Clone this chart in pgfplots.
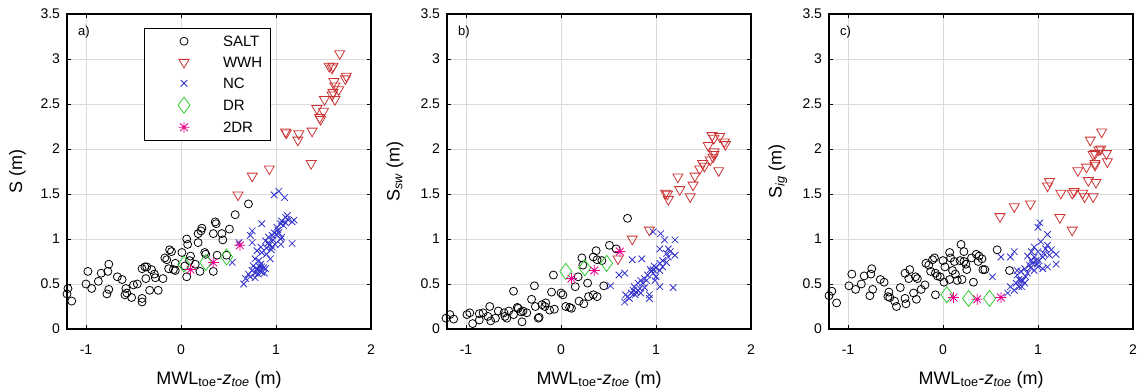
\documentclass[border=0pt]{standalone}
\usepackage{pgfplots}
\pgfplotsset{compat=1.18}
\usepackage{fontspec}
\setmainfont{Liberation Sans}
\definecolor{cRed}{RGB}{204,51,51}
\definecolor{cBlue}{RGB}{51,51,204}
\definecolor{cGreen}{RGB}{51,204,51}
\pgfdeclareplotmark{mast}{%
  \pgfpathmoveto{\pgfqpoint{-\pgfplotmarksize}{0pt}}\pgfpathlineto{\pgfqpoint{\pgfplotmarksize}{0pt}}%
  \pgfpathmoveto{\pgfqpoint{0pt}{-\pgfplotmarksize}}\pgfpathlineto{\pgfqpoint{0pt}{\pgfplotmarksize}}%
  \pgfpathmoveto{\pgfqpoint{-.7071\pgfplotmarksize}{-.7071\pgfplotmarksize}}\pgfpathlineto{\pgfqpoint{.7071\pgfplotmarksize}{.7071\pgfplotmarksize}}%
  \pgfpathmoveto{\pgfqpoint{-.7071\pgfplotmarksize}{.7071\pgfplotmarksize}}\pgfpathlineto{\pgfqpoint{.7071\pgfplotmarksize}{-.7071\pgfplotmarksize}}%
  \pgfusepathqstroke}
\pgfplotsset{
  panel/.style={
    scale only axis, width=304pt, height=315pt, anchor=south west,
    xmin=-1.2, xmax=2, ymin=0, ymax=3.5,
    xtick={-1,0,1,2}, ytick={0,0.5,1,1.5,2,2.5,3,3.5},
    grid=major, major grid style={black!14, line width=0.6pt},
    tick align=inside, major tick length=4pt,
    axis line style={line width=1.1pt},
    every tick/.style={black, line width=0.8pt},
    tick label style={font=\fontsize{14}{16}\selectfont},
    /pgf/number format/assume math mode=true,
    xticklabel style={yshift=-12pt},
    yticklabel style={xshift=-3.5pt},
    label style={font=\fontsize{18}{20}\selectfont},
    xlabel={MWL\textsubscript{toe}-\textit{z}\textsubscript{\textit{toe}} (m)},
    xlabel style={at={(axis description cs:0.5,-0.1746)}, anchor=base},
    clip=false,
  },
  salt/.style={only marks, mark=o, black, mark size=4pt, line width=0.8pt},
  wwh/.style={only marks, mark=triangle, mark options={rotate=180}, cRed, mark size=5.8pt, line width=0.8pt},
  nc/.style={only marks, mark=x, cBlue, mark size=4.6pt, line width=0.8pt},
  dr/.style={only marks, mark=diamond, cGreen, mark size=8pt, line width=0.8pt},
  tdr/.style={only marks, mark=mast, magenta, mark size=5.5pt, line width=0.8pt},
}
\begin{document}
\begin{tikzpicture}
\useasboundingbox (0,0) rectangle (1137pt,391pt);
% ---------------- panel a ----------------
\begin{axis}[panel, at={(67pt,62pt)},
  ylabel={S (m)},
  ylabel style={at={(axis description cs:-0.163,0.5)}, anchor=center},
  legend style={at={(0.252,0.956)}, anchor=north west, draw=black, line width=0.8pt, fill=white,
    font=\fontsize{15}{17}\selectfont, inner xsep=2pt, inner ysep=6pt, row sep=7pt,
    nodes={draw=none, fill=none, inner sep=0pt, text height=12pt, text depth=2pt, anchor=west}},
  legend cell align=left,
  legend image code/.code={\path[draw=none, fill=none] (0pt,-7pt) rectangle (77pt,7pt); \draw[#1] plot coordinates {(38pt,0pt)};},
]
\addplot[salt] coordinates {
(-1.20,0.39) (-1.19,0.45) (-1.15,0.31) (-0.98,0.64) (-1.00,0.50) (-0.94,0.45) (-0.87,0.53)
(-0.84,0.62) (-0.76,0.72) (-0.77,0.64) (-0.76,0.44) (-0.78,0.39) (-0.67,0.58) (-0.62,0.55)
(-0.58,0.45) (-0.59,0.38) (-0.57,0.40) (-0.52,0.35) (-0.50,0.49) (-0.46,0.50) (-0.41,0.67)
(-0.38,0.69) (-0.36,0.69) (-0.37,0.56) (-0.41,0.34) (-0.41,0.30) (-0.33,0.43) (-0.31,0.66)
(-0.28,0.61) (-0.27,0.57) (-0.24,0.43) (-0.19,0.56) (-0.17,0.79) (-0.15,0.77) (-0.12,0.88)
(-0.10,0.86) (-0.13,0.67) (-0.08,0.66) (-0.06,0.65) (0.01,0.85) (0.06,1.00) (0.07,0.94)
(0.10,0.81) (0.18,0.96) (0.18,1.06) (0.21,1.09) (0.22,1.12) (0.20,0.64) (0.25,0.85)
(0.26,0.83) (0.34,1.06) (0.36,1.19) (0.37,1.17) (0.34,0.64) (0.38,0.82) (0.43,1.06)
(0.44,0.99) (0.48,0.82) (0.51,1.11) (0.57,1.27) (0.71,1.39) (0.04,0.70) (-0.06,0.73)
(0.06,0.58) (0.09,0.76) (0.15,0.72)
};
\addlegendentry{\makebox[45pt][l]{SALT}}
\addplot[wwh] coordinates {
(1.67,3.06) (1.56,2.92) (1.59,2.90) (1.60,2.92) (1.74,2.81) (1.73,2.78) (1.61,2.75)
(1.62,2.70) (1.66,2.66) (1.60,2.63) (1.59,2.60) (1.62,2.55) (1.51,2.55) (1.43,2.45)
(1.50,2.42) (1.46,2.35) (1.47,2.33) (1.38,2.20) (1.10,2.19) (1.11,2.18) (1.24,2.17)
(1.23,2.10) (1.37,1.84) (0.93,1.78) (0.75,1.70) (0.60,1.49)
};
\addlegendentry{\makebox[45pt][l]{WWH}}
\addplot[nc] coordinates {
(1.03,1.53) (1.09,1.46) (0.98,1.49) (1.17,1.19) (1.19,1.21) (1.10,1.24) (1.12,1.26)
(1.06,1.20) (1.05,1.17) (1.01,1.13) (1.03,1.07) (0.98,1.07) (0.96,1.04) (0.92,1.02)
(0.89,0.98) (0.85,1.17) (0.75,1.09) (0.73,1.04) (0.75,0.96) (0.92,0.96) (0.96,0.91)
(0.99,0.94) (1.05,0.94) (1.06,1.02) (1.17,0.95) (0.84,0.91) (0.85,0.85) (0.80,0.87)
(0.94,0.78) (0.90,0.83) (0.78,0.78) (0.82,0.76) (0.76,0.70) (0.80,0.67) (0.83,0.65)
(0.85,0.69) (0.89,0.67) (0.75,0.65) (0.71,0.61) (0.73,0.58) (0.78,0.57) (0.68,0.56)
(0.66,0.50) (0.54,0.74) (0.61,0.96) (0.85,0.63) (0.81,0.61) (0.83,0.69) (0.80,0.66)
(0.84,0.72) (0.87,0.68) (0.88,0.62) (0.93,0.93) (0.97,0.99) (1.00,1.05) (1.02,1.10)
(1.08,1.15) (1.10,1.18) (1.12,1.22) (0.95,0.88) (0.90,0.90) (1.05,1.00) (0.78,0.62)
(0.82,0.70)
};
\addlegendentry{\makebox[45pt][l]{NC}}
\addplot[dr] coordinates {(0.03,0.72) (0.26,0.74) (0.48,0.80)};
\addlegendentry{\makebox[45pt][l]{DR}}
\addplot[tdr] coordinates {(0.10,0.66) (0.34,0.74) (0.62,0.93)};
\addlegendentry{\makebox[45pt][l]{2DR}}
\node[anchor=north west, font=\fontsize{13}{15}\selectfont, inner sep=0pt] at (rel axis cs:0.036,0.962) {a)};
\end{axis}
% ---------------- panel b ----------------
\begin{axis}[panel, at={(447pt,62pt)},
  ylabel={S\textsubscript{\textit{sw}} (m)},
  ylabel style={at={(axis description cs:-0.171,0.5)}, anchor=center},
]
\addplot[salt] coordinates {
(-1.21,0.12) (-1.17,0.16) (-1.13,0.11) (-0.99,0.16) (-0.96,0.18) (-0.93,0.06) (-0.86,0.17)
(-0.82,0.18) (-0.77,0.14) (-0.75,0.25) (-0.74,0.09) (-0.66,0.20) (-0.60,0.18) (-0.59,0.14)
(-0.55,0.20) (-0.50,0.16) (-0.50,0.42) (-0.46,0.24) (-0.41,0.08) (-0.40,0.20) (-0.36,0.18)
(-0.31,0.33) (-0.28,0.48) (-0.27,0.25) (-0.23,0.13) (-0.20,0.27) (-0.17,0.25) (-0.12,0.21)
(-0.10,0.41) (-0.08,0.60) (-0.07,0.22) (0.00,0.40) (0.02,0.38) (0.05,0.25) (0.09,0.24)
(0.11,0.23) (0.15,0.47) (0.18,0.58) (0.22,0.79) (0.23,0.71) (0.19,0.31) (0.24,0.28)
(0.28,0.51) (0.29,0.36) (0.34,0.80) (0.37,0.87) (0.38,0.77) (0.34,0.38) (0.38,0.36)
(0.43,0.76) (0.45,0.48) (0.51,0.93) (0.58,0.89) (0.70,1.23) (-0.86,0.10) (-0.57,0.12)
(-0.45,0.23) (-0.42,0.19) (-0.16,0.29) (-0.24,0.12) (-0.69,0.12)
};
\addplot[wwh] coordinates {
(1.59,2.15) (1.61,2.12) (1.67,2.14) (1.72,2.08) (1.73,2.05) (1.55,2.04) (1.61,1.97)
(1.61,1.94) (1.60,1.91) (1.57,1.88) (1.66,1.76) (1.49,1.84) (1.51,1.81) (1.46,1.78)
(1.41,1.70) (1.23,1.69) (1.39,1.60) (1.25,1.55) (1.10,1.51) (1.36,1.47) (1.12,1.50)
(1.13,1.44) (0.93,1.10) (0.75,1.00) (0.60,0.78)
};
\addplot[nc] coordinates {
(1.05,1.06) (0.97,1.08) (1.09,0.99) (1.20,0.99) (1.13,0.89) (1.04,0.89) (1.11,0.84)
(1.20,0.82) (1.07,0.76) (1.04,0.73) (1.00,0.68) (0.97,0.66) (0.95,0.64) (0.91,0.60)
(0.88,0.56) (0.84,0.54) (0.81,0.51) (0.77,0.47) (0.83,0.45) (0.79,0.41) (0.74,0.40)
(0.68,0.38) (0.67,0.30) (0.72,0.34) (0.93,0.38) (0.93,0.34) (1.04,0.47) (1.18,0.46)
(0.85,0.78) (0.75,0.77) (0.61,0.60) (0.52,0.48) (0.67,0.62) (0.99,0.54) (1.00,0.58)
(1.07,0.69) (0.97,0.62) (0.90,0.54) (0.86,0.51) (0.81,0.43) (0.76,0.43) (1.04,0.65)
(1.11,0.74) (1.13,0.80) (1.15,0.86) (0.88,0.46) (0.84,0.40) (0.94,0.66) (0.98,0.70)
(0.70,0.36) (0.78,0.38)
};
\addplot[dr] coordinates {(0.05,0.64) (0.25,0.68) (0.48,0.73)};
\addplot[tdr] coordinates {(0.11,0.56) (0.35,0.65) (0.62,0.86)};
\node[anchor=north west, font=\fontsize{13}{15}\selectfont, inner sep=0pt] at (rel axis cs:0.036,0.962) {b)};
\end{axis}
% ---------------- panel c ----------------
\begin{axis}[panel, at={(829pt,62pt)},
  ylabel={S\textsubscript{\textit{ig}} (m)},
  ylabel style={at={(axis description cs:-0.168,0.5)}, anchor=center},
]
\addplot[salt] coordinates {
(-1.20,0.37) (-1.17,0.42) (-1.12,0.29) (-0.96,0.61) (-0.99,0.48) (-0.92,0.44) (-0.86,0.50)
(-0.83,0.59) (-0.75,0.67) (-0.76,0.61) (-0.74,0.44) (-0.77,0.37) (-0.66,0.55) (-0.62,0.52)
(-0.57,0.41) (-0.58,0.36) (-0.56,0.35) (-0.51,0.31) (-0.49,0.25) (-0.45,0.46) (-0.40,0.62)
(-0.35,0.66) (-0.36,0.56) (-0.40,0.34) (-0.39,0.28) (-0.31,0.40) (-0.28,0.33) (-0.29,0.58)
(-0.27,0.56) (-0.23,0.44) (-0.19,0.49) (-0.18,0.73) (-0.15,0.71) (-0.11,0.77) (-0.09,0.79)
(-0.13,0.64) (-0.08,0.62) (-0.06,0.59) (-0.08,0.38) (0.00,0.76) (0.02,0.69) (0.01,0.52)
(0.07,0.85) (0.08,0.79) (0.10,0.65) (0.12,0.75) (0.13,0.61) (0.07,0.55) (0.19,0.94)
(0.22,0.86) (0.18,0.76) (0.22,0.75) (0.24,0.72) (0.20,0.55) (0.25,0.66) (0.30,0.79)
(0.35,0.83) (0.38,0.81) (0.37,0.75) (0.32,0.52) (0.42,0.66) (0.44,0.66) (0.41,0.78)
(0.57,0.88) (0.70,0.65) (0.15,0.54) (-0.03,0.58)
};
\addplot[wwh] coordinates {
(1.67,2.19) (1.55,2.10) (1.64,1.99) (1.66,2.00) (1.60,1.95) (1.58,1.94) (1.72,1.95)
(1.73,1.86) (1.60,1.84) (1.60,1.82) (1.51,1.80) (1.42,1.76) (1.53,1.65) (1.61,1.63)
(1.12,1.64) (1.10,1.59) (1.24,1.51) (1.38,1.53) (1.47,1.51) (1.58,1.47) (1.49,1.47)
(1.36,1.51) (0.92,1.39) (0.75,1.36) (0.60,1.25) (1.23,1.24) (1.36,1.10)
};
\addplot[nc] coordinates {
(1.02,1.18) (1.00,1.13) (1.10,1.05) (1.10,0.93) (1.19,0.83) (1.19,0.72) (1.14,0.88)
(1.03,0.97) (0.96,0.91) (0.93,0.86) (0.89,0.81) (0.96,0.80) (1.01,0.76) (1.05,0.80)
(0.94,0.73) (0.91,0.71) (0.86,0.67) (0.82,0.64) (0.78,0.60) (0.82,0.54) (0.86,0.51)
(0.80,0.47) (0.75,0.43) (0.71,0.47) (0.68,0.40) (0.77,0.51) (0.75,0.86) (0.71,0.80)
(0.61,0.80) (0.52,0.58) (1.10,0.69) (1.05,0.67) (1.00,0.69) (0.98,0.76) (1.08,0.89)
(0.89,0.62) (0.84,0.54) (0.78,0.65) (0.93,0.76) (1.12,0.82) (0.96,0.65) (1.00,0.86)
(0.83,0.47) (0.87,0.58) (0.92,0.68) (1.06,0.84) (0.99,0.72) (0.80,0.55)
};
\addplot[dr] coordinates {(0.04,0.38) (0.27,0.34) (0.49,0.34)};
\addplot[tdr] coordinates {(0.11,0.35) (0.36,0.33) (0.61,0.35)};
\node[anchor=north west, font=\fontsize{13}{15}\selectfont, inner sep=0pt] at (rel axis cs:0.036,0.962) {c)};
\end{axis}
\end{tikzpicture}
\end{document}
